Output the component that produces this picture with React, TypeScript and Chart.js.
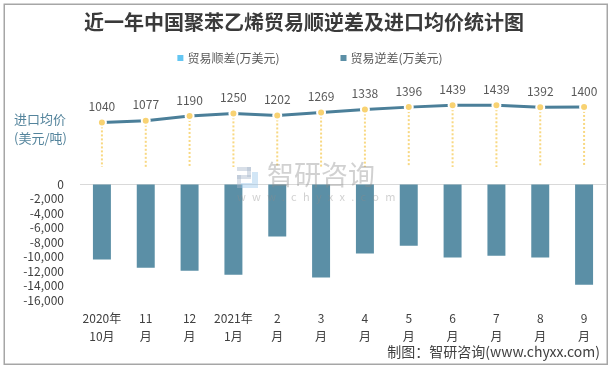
import React, { useEffect, useRef } from 'react';
import { Chart, registerables } from 'chart.js';

Chart.register(...registerables);

const FONT = '"Noto Sans CJK SC", "Noto Sans", sans-serif';

const categories: string[][] = [
  ['2020年', '10月'], ['11', '月'], ['12', '月'], ['2021年', '1月'], ['2', '月'], ['3', '月'],
  ['4', '月'], ['5', '月'], ['6', '月'], ['7', '月'], ['8', '月'], ['9', '月'],
];
const surplusLabel = '贸易顺差(万美元)';
const deficitLabel = '贸易逆差(万美元)';
const priceLabel = '进口均价(美元/吨)';
const surplus: (number | null)[] = [null, null, null, null, null, null, null, null, null, null, null, null];
const deficit: number[] = [-10400, -11550, -11950, -12500, -7250, -12900, -9600, -8500, -10150, -9900, -10150, -13900];
const avgPrice: number[] = [1040, 1077, 1190, 1250, 1202, 1269, 1338, 1396, 1439, 1439, 1392, 1400];
const barTicks: number[] = [0, -2000, -4000, -6000, -8000, -10000, -12000, -14000, -16000];
const barAxisMin = -16000;
const barAxisMax = 15000;
const priceAxisMin = -3100;
const priceAxisMax = 2139;
const titleText = '近一年中国聚苯乙烯贸易顺逆差及进口均价统计图';
const sourceText = '制图：智研咨询(www.chyxx.com)';
const yTitleLines = ['进口均价', '(美元/吨)'];

const decorPlugin = {
  id: 'decor',
  beforeDraw(chart: any) {
    const ctx = chart.ctx;
    ctx.save();
    ctx.fillStyle = '#ffffff';
    ctx.fillRect(0, 0, chart.width, chart.height);
    ctx.strokeStyle = '#a6a6a6';
    ctx.lineWidth = 1.5;
    ctx.strokeRect(4.25, 4.25, 603, 360);
    ctx.restore();
  },
  beforeDatasetsDraw(chart: any) {
    const ctx = chart.ctx;
    const idx = chart.data.datasets.findIndex((d: any) => d.type === 'line');
    if (idx < 0) return;
    const meta = chart.getDatasetMeta(idx);
    const y0 = chart.scales.y1.getPixelForValue(0);
    ctx.save();
    ctx.strokeStyle = '#f8d882';
    ctx.lineWidth = 2;
    ctx.setLineDash([2, 2]);
    meta.data.forEach((pt: any) => {
      ctx.beginPath();
      ctx.moveTo(pt.x, pt.y);
      ctx.lineTo(pt.x, y0);
      ctx.stroke();
    });
    ctx.restore();
  },
  afterDatasetsDraw(chart: any) {
    const ctx = chart.ctx;
    ctx.save();
    const idx = chart.data.datasets.findIndex((d: any) => d.type === 'line');
    if (idx >= 0) {
      const meta = chart.getDatasetMeta(idx);
      const data = chart.data.datasets[idx].data;
      ctx.fillStyle = '#595959';
      ctx.font = `12px ${FONT}`;
      ctx.textAlign = 'center';
      ctx.textBaseline = 'middle';
      meta.data.forEach((pt: any, i: number) => {
        ctx.fillText(String(data[i]), pt.x, pt.y - 16);
      });
    }
    // watermark
    ctx.globalAlpha = 0.45;
    ctx.fillStyle = '#a9b9cc';
    ctx.fillRect(237, 167, 14, 4);
    ctx.fillRect(247, 167, 4, 10);
    ctx.fillRect(237, 175, 14, 4);
    ctx.fillRect(237, 175, 4, 13);
    ctx.fillStyle = '#9cc7ea';
    ctx.fillRect(252, 172, 6, 16);
    ctx.fillRect(241, 183, 11, 5);
    ctx.globalAlpha = 0.4;
    ctx.fillStyle = '#8c8c8c';
    ctx.font = `27px ${FONT}`;
    ctx.textAlign = 'left';
    ctx.textBaseline = 'middle';
    ctx.fillText('智研咨询', 267, 175);
    ctx.font = `11px ${FONT}`;
    try { (ctx as any).letterSpacing = '6.3px'; } catch (e) { /* ignore */ }
    ctx.fillText('www.chyxx.com', 237, 197);
    try { (ctx as any).letterSpacing = '0px'; } catch (e) { /* ignore */ }
    ctx.restore();
  },
  afterDraw(chart: any) {
    const ctx = chart.ctx;
    ctx.save();
    const items = chart.data.datasets.filter((d: any) => d.type === 'bar');
    ctx.font = `12px ${FONT}`;
    const box = 6, gapText = 4, gapItem = 61;
    const widths = items.map((it: any) => box + gapText + ctx.measureText(it.label).width);
    const total = widths.reduce((a: number, b: number) => a + b, 0) + gapItem * (items.length - 1);
    let x = chart.width / 2 + 4 - total / 2;
    const ly = 58;
    ctx.textBaseline = 'middle';
    ctx.textAlign = 'left';
    items.forEach((it: any, i: number) => {
      ctx.fillStyle = it.backgroundColor;
      ctx.fillRect(x, ly - 3, box, box);
      ctx.fillStyle = '#595959';
      ctx.fillText(it.label, x + box + gapText, ly);
      x += widths[i] + gapItem;
    });
    ctx.fillStyle = '#54849c';
    ctx.font = `13px ${FONT}`;
    ctx.fillText(yTitleLines[0], 14, 119);
    ctx.fillText(yTitleLines[1], 14, 138);
    ctx.fillStyle = '#404040';
    ctx.font = `14px ${FONT}`;
    ctx.textAlign = 'right';
    ctx.fillText(sourceText, 600, 352);
    ctx.restore();
  },
};

export default function App() {
  const ref = useRef<HTMLCanvasElement | null>(null);
  useEffect(() => {
    document.body.style.margin = '0';
    if (!ref.current) return;
    const chart = new Chart(ref.current, {
      type: 'bar',
      data: {
        labels: categories,
        datasets: [
          {
            type: 'line',
            label: priceLabel,
            data: avgPrice,
            yAxisID: 'y1',
            borderColor: '#4b7f99',
            borderWidth: 3,
            pointRadius: 4,
            pointBackgroundColor: '#f8d272',
            pointBorderColor: '#ffffff',
            pointBorderWidth: 2,
            tension: 0,
          } as any,
          {
            type: 'bar',
            label: surplusLabel,
            data: surplus,
            yAxisID: 'y',
            backgroundColor: '#64c6f2',
            grouped: false,
            barPercentage: 0.41,
            categoryPercentage: 1,
          } as any,
          {
            type: 'bar',
            label: deficitLabel,
            data: deficit,
            yAxisID: 'y',
            backgroundColor: '#5b8fa6',
            grouped: false,
            barPercentage: 0.41,
            categoryPercentage: 1,
          } as any,
        ],
      },
      options: {
        responsive: true,
        maintainAspectRatio: false,
        animation: false,
        events: [],
        layout: { padding: { left: 0, right: 4, top: 0, bottom: 0 } },
        font: { family: FONT },
        plugins: {
          legend: { display: false },
          tooltip: { enabled: false },
          title: {
            display: true,
            text: titleText,
            color: '#3a3a3a',
            font: { family: FONT, size: 20, weight: 'bold' },
            padding: { top: 10, bottom: 41.25 },
          },
        },
        scales: {
          x: {
            type: 'category',
            offset: true,
            grid: { display: false, drawTicks: false },
            border: { display: false },
            ticks: {
              color: '#404040',
              font: { family: FONT, size: 12, lineHeight: 1.5 },
              padding: 9,
              maxRotation: 0,
              autoSkip: false,
            },
            afterFit: (s: any) => { s.height = 70; },
          },
          y: {
            type: 'linear',
            position: 'left',
            min: barAxisMin,
            max: barAxisMax,
            grid: {
              drawTicks: false,
              color: (c: any) => (c.tick && c.tick.value === 0 ? '#d9d9d9' : 'rgba(0,0,0,0)'),
              lineWidth: 1,
            },
            border: { display: false },
            ticks: {
              color: '#404040',
              font: { family: FONT, size: 12 },
              padding: 16,
              callback: (v: any) => Number(v).toLocaleString('en-US'),
            },
            afterBuildTicks: (s: any) => { s.ticks = barTicks.map((v) => ({ value: v })); },
            afterFit: (s: any) => { s.width = 80; },
          },
          y1: {
            type: 'linear',
            position: 'right',
            display: false,
            min: priceAxisMin,
            max: priceAxisMax,
          },
        },
      } as any,
      plugins: [decorPlugin],
    });
    return () => chart.destroy();
  }, []);
  return (
    <div style={{ position: 'relative', width: 612, height: 370 }}>
      <canvas ref={ref} />
    </div>
  );
}
